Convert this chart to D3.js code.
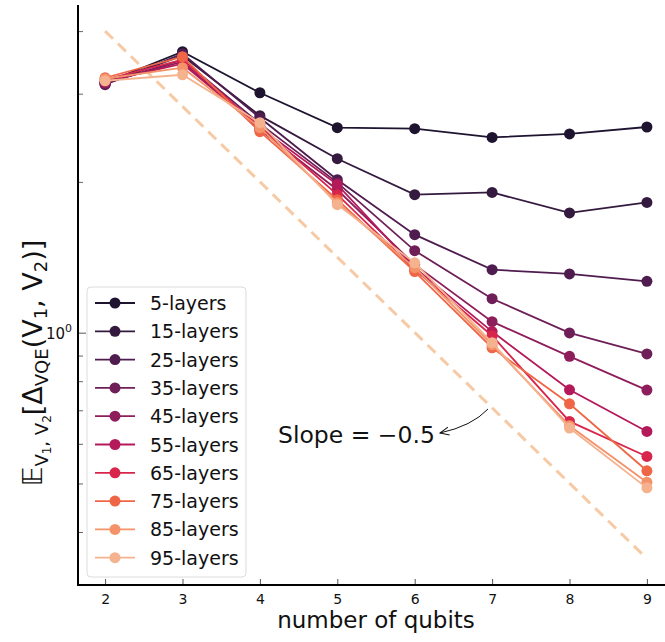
<!DOCTYPE html>
<html>
<head>
<meta charset="utf-8">
<script src="https://cdn.jsdelivr.net/npm/d3@7"></script>
<style>
body { margin: 0; background: #fff; }
text { font-family: "DejaVu Sans", sans-serif; }
</style>
</head>
<body>
<svg id="chart" width="665" height="642"></svg>
<script>
var qubits = [2, 3, 4, 5, 6, 7, 8, 9];
var layerNames = ['5-layers', '15-layers', '25-layers', '35-layers', '45-layers',
                  '55-layers', '65-layers', '75-layers', '85-layers', '95-layers'];
var colors = ['#1e1430', '#341a3f', '#4f1c4f', '#6f1f57', '#8e1d5b',
              '#b41a5a', '#d8254b', '#ef6646', '#f4926a', '#f5b28e'];
var l5  = [3.155, 3.638, 3.013, 2.566, 2.554, 2.454, 2.493, 2.574];
var l15 = [3.141, 3.572, 2.712, 2.225, 1.886, 1.905, 1.734, 1.820];
var l25 = [3.126, 3.605, 2.686, 2.020, 1.569, 1.336, 1.310, 1.266];
var l35 = [3.141, 3.507, 2.614, 1.993, 1.458, 1.169, 0.999, 0.907];
var l45 = [3.155, 3.475, 2.542, 1.929, 1.367, 1.052, 0.897, 0.768];
var l55 = [3.170, 3.443, 2.566, 1.975, 1.348, 1.005, 0.769, 0.635];
var l65 = [3.199, 3.507, 2.577, 1.886, 1.336, 0.986, 0.665, 0.566];
var l75 = [3.228, 3.556, 2.519, 1.843, 1.324, 0.933, 0.721, 0.530];
var l85 = [3.213, 3.381, 2.566, 1.817, 1.348, 0.946, 0.652, 0.503];
var l95 = [3.184, 3.273, 2.626, 1.801, 1.379, 0.955, 0.645, 0.490];
var series = [l5, l15, l25, l35, l45, l55, l65, l75, l85, l95];
// guide line with slope -0.5 (end points)
var slopeX = [2, 9];
var slopeY = [4.0, 0.354];
var xTicks = [2, 3, 4, 5, 6, 7, 8, 9];
var yMajorTicks = [1];
var yMinorTicks = [0.4, 0.5, 0.6, 0.7, 0.8, 0.9, 2, 3, 4];

var svg = d3.select('#chart');
var x = d3.scaleLinear().domain([1.65, 9.35]).range([78, 674]);
var y = d3.scaleLog().domain([0.3135, 4.51]).range([585, 5]);

var line = d3.line()
    .x(function(d){ return x(d[0]); })
    .y(function(d){ return y(d[1]); });

// dashed guide
svg.append('path')
    .datum(d3.zip(slopeX, slopeY))
    .attr('d', line)
    .attr('fill', 'none')
    .attr('stroke', '#f7caa6')
    .attr('stroke-width', 3)
    .attr('stroke-dasharray', '11,7');

// series
series.forEach(function(vals, i){
    var pts = d3.zip(qubits, vals);
    var g = svg.append('g');
    g.append('path')
        .datum(pts)
        .attr('d', line)
        .attr('fill', 'none')
        .attr('stroke', colors[i])
        .attr('stroke-width', 1.8);
    g.selectAll('circle')
        .data(pts)
        .enter().append('circle')
        .attr('cx', function(d){ return x(d[0]); })
        .attr('cy', function(d){ return y(d[1]); })
        .attr('r', 5.5)
        .attr('fill', colors[i]);
});

// axes
var xAxis = d3.axisBottom(x).tickValues(xTicks).tickSizeInner(-6).tickSizeOuter(0).tickPadding(9);
var gx = svg.append('g').attr('transform', 'translate(0,585)').call(xAxis);
gx.select('.domain').remove();
gx.selectAll('.tick line').attr('stroke', '#555');
gx.selectAll('.tick text').attr('font-size', 14).attr('fill', '#111')
    .style('font-family', '"DejaVu Sans", sans-serif');

var yAxis = d3.axisLeft(y).tickValues(yMajorTicks).tickSizeInner(-8).tickSizeOuter(0).tickFormat('');
var gy = svg.append('g').attr('transform', 'translate(78,0)').call(yAxis);
gy.select('.domain').remove();
gy.selectAll('.tick line').attr('stroke', '#555');
var yMinor = d3.axisLeft(y).tickValues(yMinorTicks).tickSizeInner(-5).tickSizeOuter(0).tickFormat('');
var gym = svg.append('g').attr('transform', 'translate(78,0)').call(yMinor);
gym.select('.domain').remove();
gym.selectAll('.tick line').attr('stroke', '#666');

// 10^0 label
var t0 = svg.append('text').attr('x', 72).attr('y', y(1) + 6)
    .attr('text-anchor', 'end').attr('font-size', 15).attr('fill', '#111');
t0.append('tspan').text('10');
t0.append('tspan').attr('dy', -7).attr('font-size', 11).text('0');

// spines
svg.append('line').attr('x1', 78).attr('x2', 78).attr('y1', 5).attr('y2', 586)
    .attr('stroke', '#000').attr('stroke-width', 2);
svg.append('line').attr('x1', 77).attr('x2', 665).attr('y1', 585).attr('y2', 585)
    .attr('stroke', '#000').attr('stroke-width', 2);

// x label
svg.append('text').attr('x', 376).attr('y', 628).attr('text-anchor', 'middle')
    .attr('font-size', 23).attr('fill', '#111').text('number of qubits');

// y label (mathtext-like)
var yl = svg.append('text')
    .attr('transform', 'translate(42,363) rotate(-90)')
    .attr('text-anchor', 'middle').attr('font-size', 27).attr('fill', '#111');
yl.append('tspan').text('\u{1D53C}');
yl.append('tspan').attr('dy', 6).attr('font-size', 18).text('V');
yl.append('tspan').attr('dy', 3).attr('font-size', 12).text('1');
yl.append('tspan').attr('dy', -3).attr('font-size', 18).text(', V');
yl.append('tspan').attr('dy', 3).attr('font-size', 12).text('2');
yl.append('tspan').attr('dy', -9).text('[\u0394');
yl.append('tspan').attr('dy', 6).attr('font-size', 18).text('VQE');
yl.append('tspan').attr('dy', -6).text('(V');
yl.append('tspan').attr('dy', 5).attr('font-size', 18).text('1');
yl.append('tspan').attr('dy', -5).text(', V');
yl.append('tspan').attr('dy', 5).attr('font-size', 18).text('2');
yl.append('tspan').attr('dy', -5).text(')]');

// legend
var lg = svg.append('g');
lg.append('rect').attr('x', 87).attr('y', 287).attr('width', 159).attr('height', 290)
    .attr('rx', 4).attr('fill', '#fff').attr('fill-opacity', 0.85)
    .attr('stroke', '#dcdcdc');
layerNames.forEach(function(name, i){
    var cy = 303 + i * 28.3;
    lg.append('line').attr('x1', 95).attr('x2', 135).attr('y1', cy).attr('y2', cy)
        .attr('stroke', colors[i]).attr('stroke-width', 1.8);
    lg.append('circle').attr('cx', 115).attr('cy', cy).attr('r', 5.5).attr('fill', colors[i]);
    lg.append('text').attr('x', 150).attr('y', cy + 7).attr('font-size', 19)
        .attr('fill', '#111').text(name);
});

// annotation
var defs = svg.append('defs');
defs.append('marker').attr('id', 'arr').attr('viewBox', '0 0 10 10')
    .attr('refX', 9).attr('refY', 5).attr('markerWidth', 10).attr('markerHeight', 10)
    .attr('markerUnits', 'userSpaceOnUse').attr('orient', 'auto')
    .append('path').attr('d', 'M0,1 L9,5 L0,9').attr('fill', 'none')
    .attr('stroke', '#111').attr('stroke-width', 1);
svg.append('path').attr('d', 'M488,409 Q472,426 440,433')
    .attr('fill', 'none').attr('stroke', '#111').attr('stroke-width', 1)
    .attr('marker-end', 'url(#arr)');
svg.append('text').attr('x', 278).attr('y', 443).attr('font-size', 23.5)
    .attr('fill', '#111').text('Slope = \u22120.5');
</script>
</body>
</html>
